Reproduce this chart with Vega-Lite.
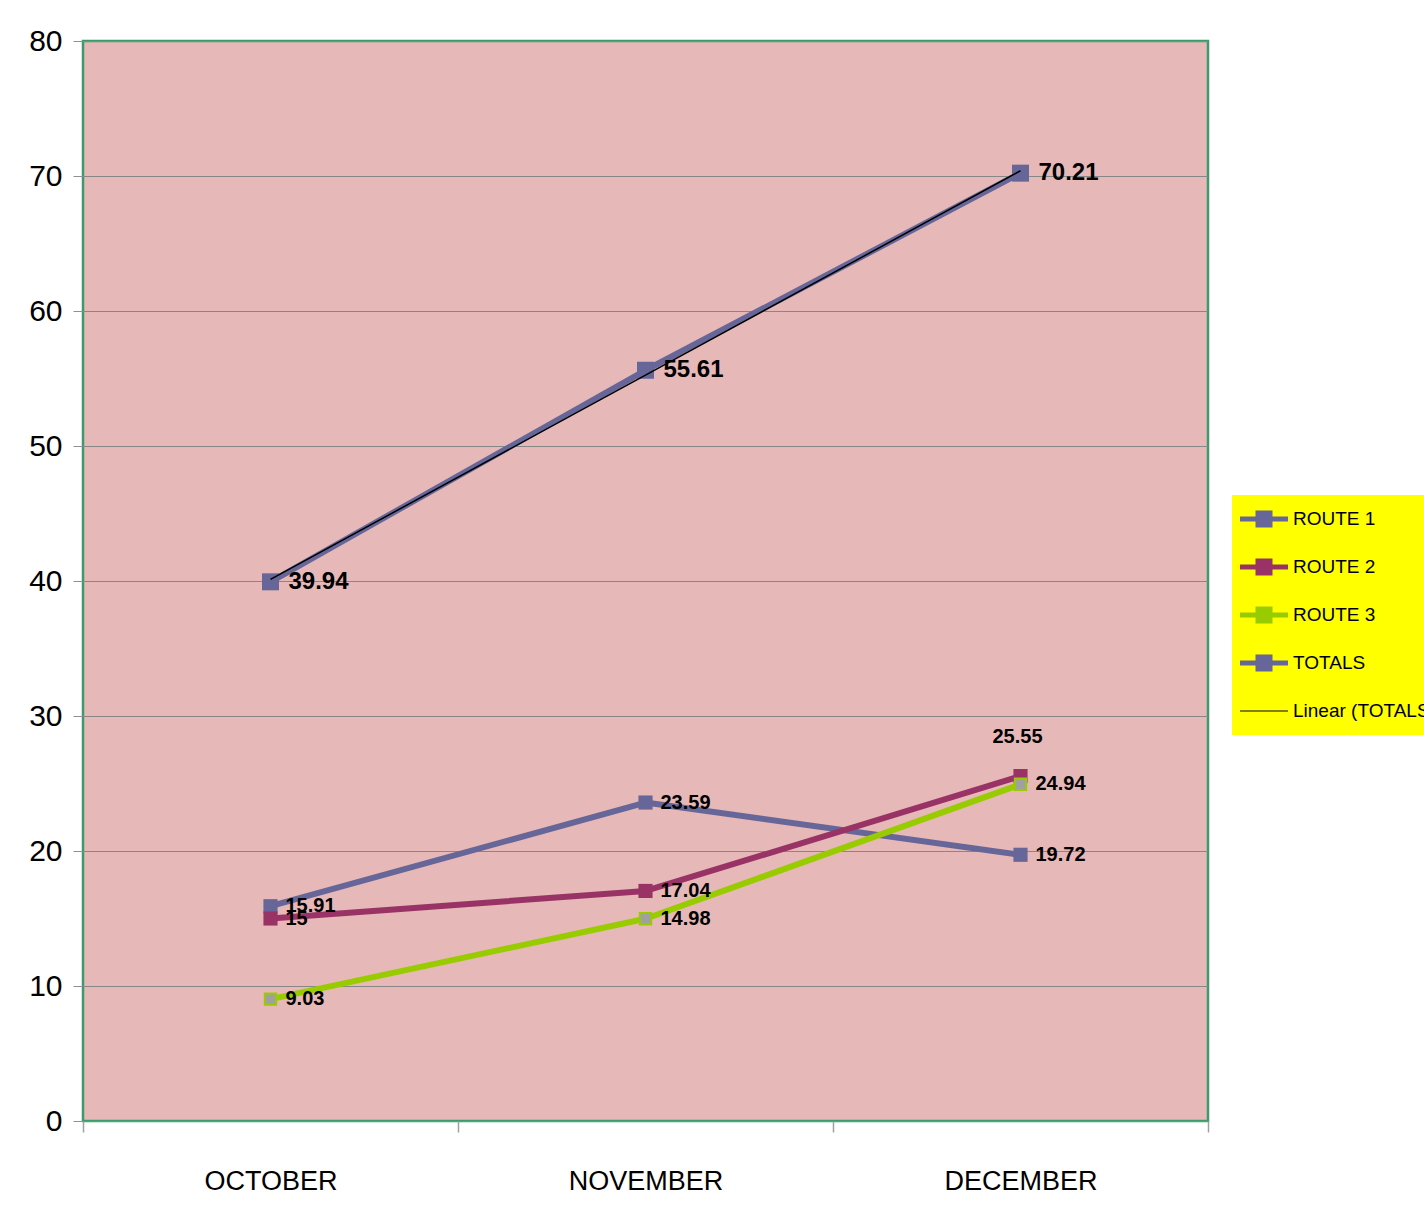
{
  "$schema": "https://vega.github.io/schema/vega-lite/v6.json",
  "width": 1125,
  "height": 1080,
  "autosize": {"type": "none"},
  "padding": {"left": 83, "top": 41, "right": 216, "bottom": 102},
  "background": "white",
  "config": {
    "view": {"fill": "#E6B8B7", "stroke": "#3D9A6D", "strokeWidth": 2.5},
    "font": "Liberation Sans, sans-serif"
  },
  "data": {
    "values": [
      {"month": "OCTOBER", "series": "ROUTE 1", "value": 15.91},
      {"month": "NOVEMBER", "series": "ROUTE 1", "value": 23.59},
      {"month": "DECEMBER", "series": "ROUTE 1", "value": 19.72},
      {"month": "OCTOBER", "series": "ROUTE 2", "value": 15},
      {"month": "NOVEMBER", "series": "ROUTE 2", "value": 17.04},
      {"month": "DECEMBER", "series": "ROUTE 2", "value": 25.55},
      {"month": "OCTOBER", "series": "ROUTE 3", "value": 9.03},
      {"month": "NOVEMBER", "series": "ROUTE 3", "value": 14.98},
      {"month": "DECEMBER", "series": "ROUTE 3", "value": 24.94},
      {"month": "OCTOBER", "series": "TOTALS", "value": 39.94},
      {"month": "NOVEMBER", "series": "TOTALS", "value": 55.61},
      {"month": "DECEMBER", "series": "TOTALS", "value": 70.21},
      {"month": "OCTOBER", "series": "Linear (TOTALS)", "value": 40.12},
      {"month": "NOVEMBER", "series": "Linear (TOTALS)", "value": 55.25},
      {"month": "DECEMBER", "series": "Linear (TOTALS)", "value": 70.39}
    ]
  },
  "encoding": {
    "x": {
      "field": "month",
      "type": "ordinal",
      "sort": ["OCTOBER", "NOVEMBER", "DECEMBER"],
      "scale": {"type": "band", "paddingInner": 0, "paddingOuter": 0},
      "axis": {
        "title": null,
        "domain": false,
        "grid": false,
        "ticks": true,
        "tickBand": "extent",
        "tickSize": 11,
        "tickColor": "#A0A0A0",
        "tickWidth": 1.5,
        "labelAngle": 0,
        "labelFont": "Liberation Sans, sans-serif",
        "labelFontSize": 27,
        "labelColor": "#000000",
        "labelPadding": 36
      }
    },
    "y": {
      "field": "value",
      "type": "quantitative",
      "scale": {"domain": [0, 80], "nice": false, "zero": true},
      "axis": {
        "title": null,
        "values": [0, 10, 20, 30, 40, 50, 60, 70, 80],
        "domain": false,
        "grid": true,
        "gridColor": "#878787",
        "gridWidth": 1,
        "gridOpacity": 1,
        "ticks": true,
        "tickSize": 10,
        "tickColor": "#909090",
        "labelFont": "Liberation Sans, sans-serif",
        "labelFontSize": 30,
        "labelColor": "#000000",
        "labelPadding": 11
      }
    }
  },
  "layer": [
    {
      "transform": [{"filter": "datum.series === 'ROUTE 1' || datum.series === 'ROUTE 2' || datum.series === 'ROUTE 3'"}],
      "mark": {"type": "line", "strokeWidth": 6, "strokeJoin": "round"},
      "encoding": {
        "color": {
          "field": "series",
          "type": "nominal",
          "scale": {
            "domain": ["ROUTE 1", "ROUTE 2", "ROUTE 3", "TOTALS", "Linear (TOTALS)"],
            "range": ["#666699", "#993366", "#99CC00", "#666699", "#000000"]
          },
          "legend": {
            "orient": "none",
            "legendX": 1149,
            "legendY": 454,
            "title": null,
            "fillColor": "#FFFF00",
            "padding": 0,
            "rowPadding": 0,
            "clipHeight": 48,
            "symbolType": "M-1,0H1M-0.25,-0.25H0.25V0.25H-0.25Z",
            "symbolSize": 2304,
            "symbolOffset": 5.5,
            "symbolStrokeWidth": 5,
            "labelOffset": 2.5,
            "labelFont": "Liberation Sans, sans-serif",
            "labelFontSize": 19,
            "labelColor": "#000000",
            "labelLimit": 400,
            "encoding": {
              "symbols": {
                "shape": {"value": {"expr": "datum.value === 'Linear (TOTALS)' ? 'M-1,-0.021H1V0.021H-1Z' : 'M-1,0H1M-0.25,-0.25H0.25V0.25H-0.25Z'"}},
                "strokeOpacity": {"value": {"expr": "datum.value === 'Linear (TOTALS)' ? 0 : 1"}},
                "fill": {"value": {"expr": "datum.value === 'ROUTE 3' ? '#A0A0A0' : (datum.value === 'ROUTE 2' ? '#993366' : (datum.value === 'Linear (TOTALS)' ? '#000000' : '#666699'))"}}
              }
            }
          }
        }
      }
    },
    {
      "transform": [{"filter": "datum.series === 'ROUTE 1' || datum.series === 'ROUTE 2'"}],
      "mark": {"type": "point", "shape": "square", "filled": true, "size": 200, "opacity": 1},
      "encoding": {
        "color": {"field": "series", "type": "nominal", "legend": null}
      }
    },
    {
      "transform": [{"filter": "datum.series === 'ROUTE 3'"}],
      "mark": {"type": "point", "shape": "square", "filled": true, "size": 130, "opacity": 1, "fill": "#A0A0A0", "stroke": "#99CC00", "strokeWidth": 2}
    },
    {
      "transform": [{"filter": "datum.series === 'TOTALS'"}],
      "mark": {"type": "line", "strokeWidth": 6, "strokeJoin": "round"},
      "encoding": {
        "color": {"field": "series", "type": "nominal", "legend": null}
      }
    },
    {
      "transform": [{"filter": "datum.series === 'TOTALS'"}],
      "mark": {"type": "point", "shape": "square", "filled": true, "size": 289, "opacity": 1},
      "encoding": {
        "color": {"field": "series", "type": "nominal", "legend": null}
      }
    },
    {
      "transform": [{"filter": "datum.series === 'Linear (TOTALS)'"}],
      "mark": {"type": "line", "strokeWidth": 1.5},
      "encoding": {
        "color": {"field": "series", "type": "nominal", "legend": null}
      }
    },
    {
      "transform": [{"filter": "datum.series === 'TOTALS'"}],
      "mark": {"type": "text", "align": "left", "baseline": "middle", "dx": 18, "fontSize": 24, "fontWeight": "bold", "color": "#000000", "font": "Liberation Sans, sans-serif"},
      "encoding": {
        "text": {"field": "value", "type": "nominal"}
      }
    },
    {
      "transform": [{"filter": "(datum.series === 'ROUTE 1' || datum.series === 'ROUTE 2' || datum.series === 'ROUTE 3') && !(datum.series === 'ROUTE 2' && datum.month === 'DECEMBER')"}],
      "mark": {"type": "text", "align": "left", "baseline": "middle", "dx": 15, "fontSize": 20, "fontWeight": "bold", "color": "#000000", "font": "Liberation Sans, sans-serif"},
      "encoding": {
        "text": {"field": "value", "type": "nominal"}
      }
    },
    {
      "transform": [{"filter": "datum.series === 'ROUTE 2' && datum.month === 'DECEMBER'"}],
      "mark": {"type": "text", "align": "center", "baseline": "middle", "dx": -3, "dy": -39, "fontSize": 20, "fontWeight": "bold", "color": "#000000", "font": "Liberation Sans, sans-serif"},
      "encoding": {
        "text": {"field": "value", "type": "nominal"}
      }
    }
  ]
}
